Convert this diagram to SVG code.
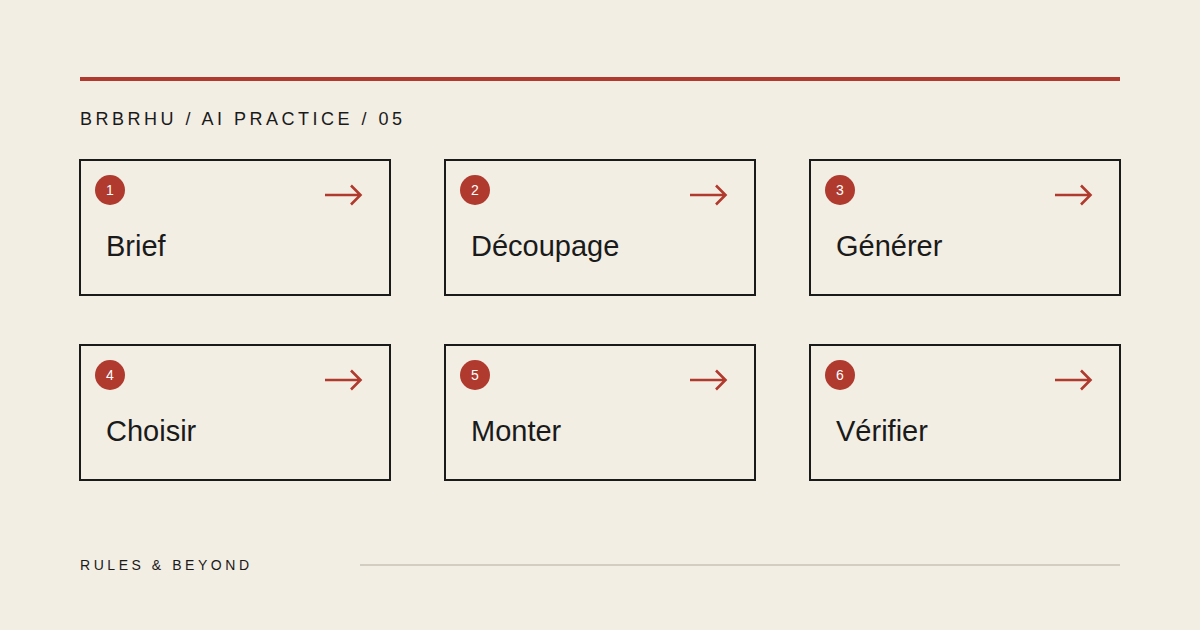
<svg xmlns="http://www.w3.org/2000/svg" width="1200" height="630" viewBox="0 0 1200 630">
<style>
.box{fill:none;stroke:#1a1a1a;stroke-width:2}
.badge{fill:#b03a2e}
.num{font-family:"Liberation Sans",Arial,sans-serif;font-size:14px;fill:#ffffff;text-anchor:middle}
.lbl{font-family:"Liberation Sans",Arial,sans-serif;font-size:29px;fill:#1a1a1a}
.arr{fill:none;stroke:#b03a2e;stroke-width:2.6;stroke-linecap:butt;stroke-linejoin:miter}
.hdr{font-family:"Liberation Sans",Arial,sans-serif;font-size:18px;fill:#1a1a1a;letter-spacing:3.5px}
.ftr{font-family:"Liberation Sans",Arial,sans-serif;font-size:14px;fill:#1a1a1a;letter-spacing:3.55px}
</style>
<rect width="1200" height="630" fill="#f2eee4"/>
<rect x="80" y="77" width="1040" height="4" fill="#b03a2e"/>
<text class="hdr" x="80" y="125">BRBRHU / AI PRACTICE / 05</text>
<g id="node1"><rect class="box" x="80" y="160" width="310" height="135"/><circle class="badge" cx="110" cy="190" r="15"/><text class="num" x="110" y="195">1</text><path class="arr" d="M325 195H360M351 185.5L360.5 195L351 204.5"/><text class="lbl" x="106" y="256">Brief</text></g>
<g id="node2"><rect class="box" x="445" y="160" width="310" height="135"/><circle class="badge" cx="475" cy="190" r="15"/><text class="num" x="475" y="195">2</text><path class="arr" d="M690 195H725M716 185.5L725.5 195L716 204.5"/><text class="lbl" x="471" y="256">Découpage</text></g>
<g id="node3"><rect class="box" x="810" y="160" width="310" height="135"/><circle class="badge" cx="840" cy="190" r="15"/><text class="num" x="840" y="195">3</text><path class="arr" d="M1055 195H1090M1081 185.5L1090.5 195L1081 204.5"/><text class="lbl" x="836" y="256">Générer</text></g>
<g id="node4"><rect class="box" x="80" y="345" width="310" height="135"/><circle class="badge" cx="110" cy="375" r="15"/><text class="num" x="110" y="380">4</text><path class="arr" d="M325 380H360M351 370.5L360.5 380L351 389.5"/><text class="lbl" x="106" y="441">Choisir</text></g>
<g id="node5"><rect class="box" x="445" y="345" width="310" height="135"/><circle class="badge" cx="475" cy="375" r="15"/><text class="num" x="475" y="380">5</text><path class="arr" d="M690 380H725M716 370.5L725.5 380L716 389.5"/><text class="lbl" x="471" y="441">Monter</text></g>
<g id="node6"><rect class="box" x="810" y="345" width="310" height="135"/><circle class="badge" cx="840" cy="375" r="15"/><text class="num" x="840" y="380">6</text><path class="arr" d="M1055 380H1090M1081 370.5L1090.5 380L1081 389.5"/><text class="lbl" x="836" y="441">Vérifier</text></g>
<g id="connectors"></g>
<text class="ftr" x="80" y="570">RULES &amp; BEYOND</text>
<line x1="360" y1="565" x2="1120" y2="565" stroke="#d3cdc1" stroke-width="2"/>
</svg>
